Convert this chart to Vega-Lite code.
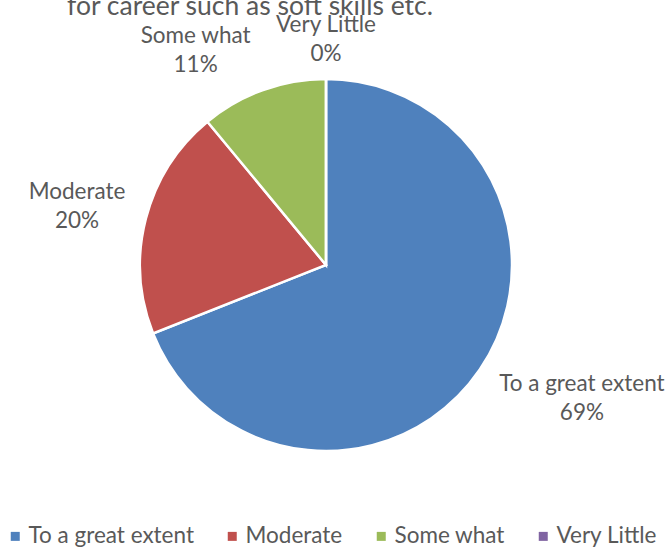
{
  "$schema": "https://vega.github.io/schema/vega-lite/v6.json",
  "width": 652,
  "height": 530,
  "autosize": {"type": "none"},
  "padding": {"left": 0, "top": 0, "right": 17, "bottom": 20},
  "background": "white",
  "title": {
    "text": "for career such as soft skills etc.",
    "fontSize": 26.5,
    "font": "Lato",
    "color": "#595959",
    "fontWeight": "normal",
    "frame": "group",
    "anchor": "middle",
    "offset": -66,
    "baseline": "alphabetic",
    "dx": -76
  },
  "data": {
    "values": [
      {"category": "To a great extent", "pct": 69, "label": "To a great extent\n69%", "idx": 1},
      {"category": "Moderate", "pct": 20, "label": "Moderate\n20%", "idx": 2},
      {"category": "Some what", "pct": 11, "label": "Some what\n11%", "idx": 3},
      {"category": "Very Little", "pct": 0, "label": "Very Little\n0%", "idx": 4}
    ]
  },
  "encoding": {
    "theta": {"field": "pct", "type": "quantitative", "stack": true},
    "order": {"field": "idx", "type": "quantitative"}
  },
  "layer": [
    {
      "mark": {"type": "arc", "outerRadius": 186, "stroke": "white", "strokeWidth": 2.5},
      "encoding": {
        "color": {
          "field": "category",
          "type": "nominal",
          "sort": null,
          "scale": {
            "domain": ["To a great extent", "Moderate", "Some what", "Very Little"],
            "range": ["#4F81BD", "#C0504D", "#9BBB59", "#8064A2"]
          },
          "legend": {
            "orient": "none",
            "legendX": 4,
            "legendY": 525,
            "direction": "horizontal",
            "columns": 4,
            "title": null,
            "symbolType": "square",
            "symbolSize": 81,
            "symbolStrokeWidth": 0,
            "labelFontSize": 22.5,
            "labelFont": "Lato",
            "labelColor": "#595959",
            "labelOffset": 2,
            "columnPadding": 27,
            "labelLimit": 300
          }
        }
      }
    },
    {
      "mark": {"type": "text", "radius": 255, "dx": 45, "dy": -24, "fontSize": 22.5, "font": "Lato", "color": "#595959", "lineBreak": "\n", "lineHeight": 29, "align": "center", "baseline": "middle"},
      "encoding": {
        "text": {"condition": {"test": "datum.category === 'To a great extent'", "field": "label"}, "value": ""}
      }
    },
    {
      "mark": {"type": "text", "radius": 255, "dx": -2, "dy": -10, "fontSize": 22.5, "font": "Lato", "color": "#595959", "lineBreak": "\n", "lineHeight": 29, "align": "center", "baseline": "middle"},
      "encoding": {
        "text": {"condition": {"test": "datum.category === 'Moderate'", "field": "label"}, "value": ""}
      }
    },
    {
      "mark": {"type": "text", "radius": 255, "dx": -44, "dy": 11, "fontSize": 22.5, "font": "Lato", "color": "#595959", "lineBreak": "\n", "lineHeight": 29, "align": "center", "baseline": "middle"},
      "encoding": {
        "text": {"condition": {"test": "datum.category === 'Some what'", "field": "label"}, "value": ""}
      }
    },
    {
      "mark": {"type": "text", "radius": 255, "dx": 0, "dy": 15, "fontSize": 22.5, "font": "Lato", "color": "#595959", "lineBreak": "\n", "lineHeight": 29, "align": "center", "baseline": "middle"},
      "encoding": {
        "text": {"condition": {"test": "datum.category === 'Very Little'", "field": "label"}, "value": ""}
      }
    }
  ],
  "config": {"view": {"stroke": null}}
}
